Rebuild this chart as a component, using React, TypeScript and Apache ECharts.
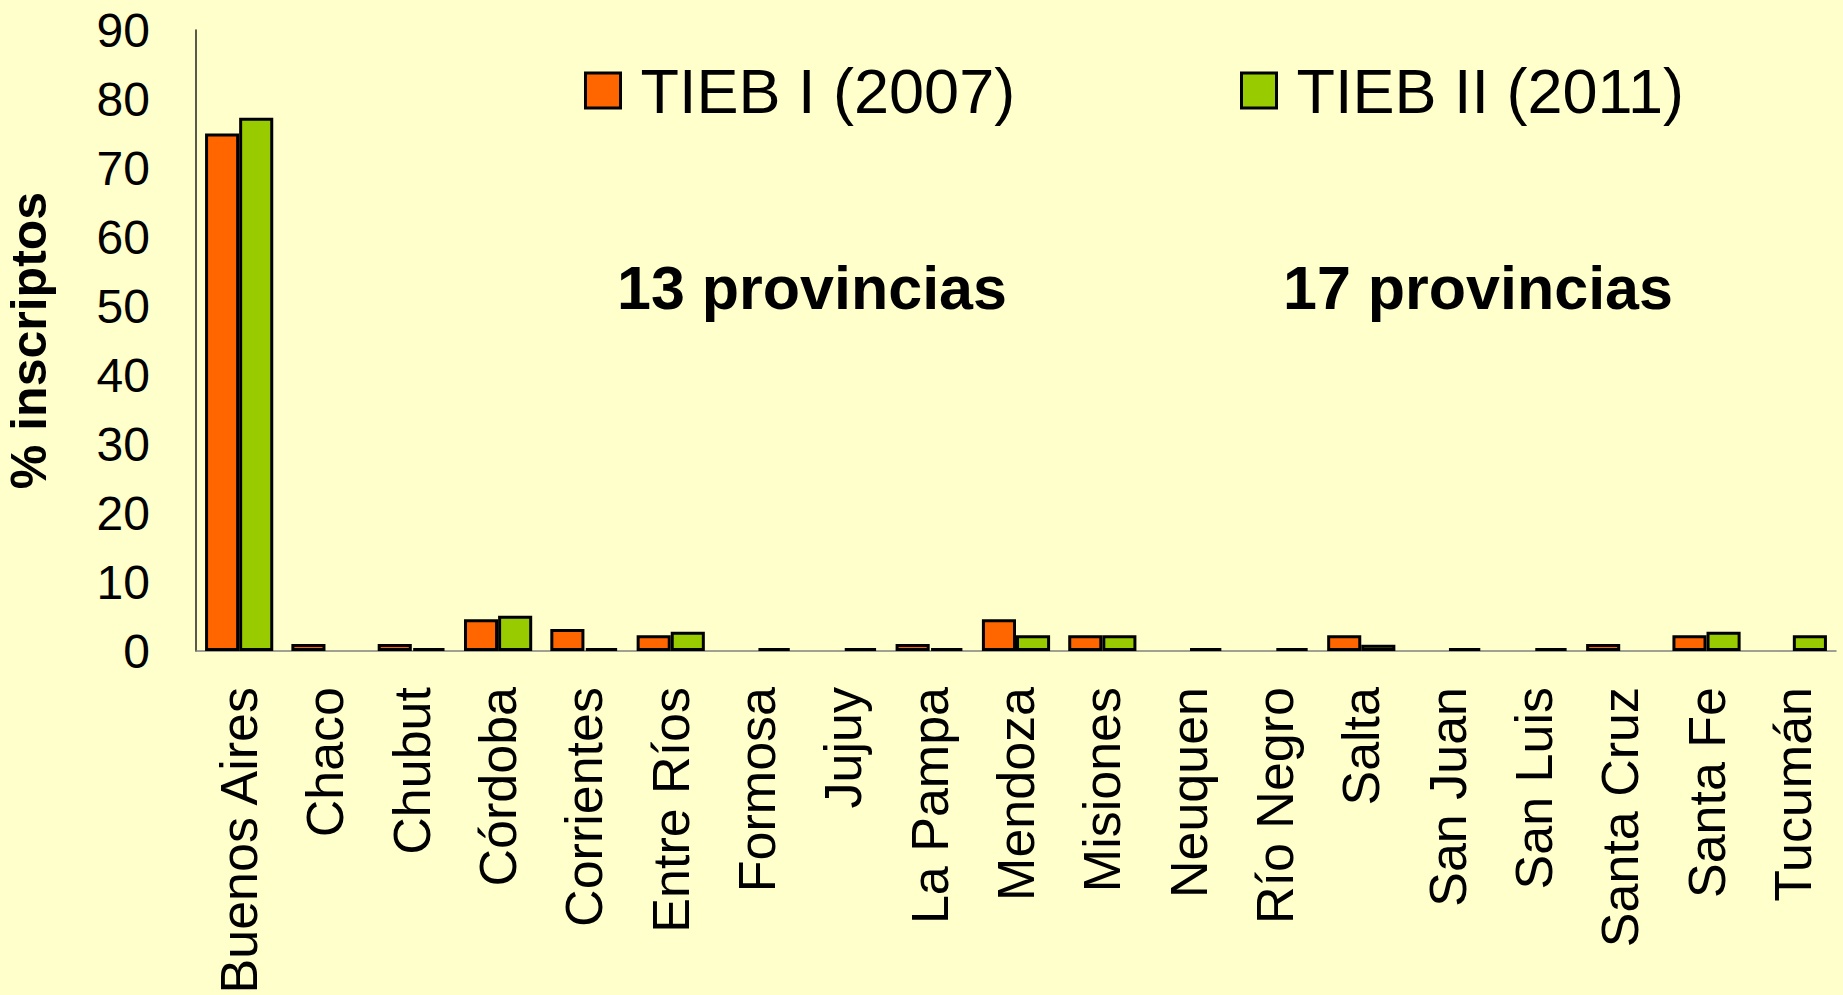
import React, { useEffect, useRef } from "react";
import * as echarts from "echarts";

const categories = [
  "Buenos Aires", "Chaco", "Chubut", "Córdoba", "Corrientes", "Entre Ríos",
  "Formosa", "Jujuy", "La Pampa", "Mendoza", "Misiones", "Neuquen",
  "Río Negro", "Salta", "San Juan", "San Luis", "Santa Cruz", "Santa Fe", "Tucumán",
];
const tieb2007 = [75.0, 1.0, 1.0, 4.6, 3.2, 2.3, null, null, 1.0, 4.6, 2.3, null, null, 2.3, null, null, 1.0, 2.3, null];
const tieb2011 = [77.3, null, 0.4, 5.1, 0.4, 2.8, 0.4, 0.4, 0.4, 2.3, 2.3, 0.4, 0.4, 0.9, 0.4, 0.4, null, 2.8, 2.3];
const seriesNames = ["TIEB I (2007)", "TIEB II (2011)"];
const annotations = ["13 provincias", "17 provincias"];
const yTicks = { min: 0, max: 90, interval: 10 };

const FONT = "'Liberation Sans', Arial, sans-serif";

export default function App() {
  const ref = useRef<HTMLDivElement>(null);
  useEffect(() => {
    document.body.style.margin = "0";
    document.body.style.background = "#FFFFCC";
    const chart = echarts.init(ref.current!, null, { renderer: "svg" });
    const legendBase = {
      icon: "rect",
      itemWidth: 35,
      itemHeight: 35,
      itemGap: 20,
      padding: 0,
      top: 59,
      textStyle: { fontSize: 63, color: "#000", fontFamily: FONT, padding: [0, 0, 0, 15] },
      itemStyle: { borderColor: "#000", borderWidth: 3 },
    };
    chart.setOption({
      animation: false,
      backgroundColor: "#FFFFCC",
      textStyle: { fontFamily: FONT },
      legend: [
        { ...legendBase, left: 584, data: [seriesNames[0]] },
        { ...legendBase, left: 1240, data: [seriesNames[1]] },
      ],
      grid: {
        left: 196,
        right: 7,
        top: 30,
        bottom: 344,
        containLabel: false,
        outerBoundsMode: "none",
      },
      xAxis: {
        type: "category",
        data: categories,
        axisTick: { show: false },
        axisLine: { lineStyle: { color: "#808080", width: 1.5 } },
        axisLabel: {
          rotate: 90,
          margin: 36,
          fontSize: 52,
          color: "#000",
          fontFamily: FONT,
          interval: 0,
        },
      },
      yAxis: {
        type: "value",
        min: yTicks.min,
        max: yTicks.max,
        interval: yTicks.interval,
        splitLine: { show: false },
        axisTick: { show: false },
        axisLine: { show: true, lineStyle: { color: "#222", width: 1.5 } },
        axisLabel: { fontSize: 48, color: "#000", margin: 46, fontFamily: FONT },
        name: "% inscriptos",
        nameLocation: "middle",
        nameRotate: 90,
        nameGap: 142,
        nameTextStyle: { fontSize: 50, fontWeight: "bold", color: "#000", fontFamily: FONT },
      },
      series: [
        {
          name: seriesNames[0],
          type: "bar",
          data: tieb2007,
          barGap: "0%",
          barCategoryGap: "21%",
          itemStyle: { color: "#FF6600", borderColor: "#000", borderWidth: 3 },
        },
        {
          name: seriesNames[1],
          type: "bar",
          data: tieb2011,
          barGap: "0%",
          barCategoryGap: "21%",
          itemStyle: { color: "#99CC00", borderColor: "#000", borderWidth: 3 },
        },
      ],
      graphic: [
        {
          type: "text",
          x: 812,
          y: 288,
          style: {
            text: annotations[0],
            fontSize: 61,
            fontWeight: "bold",
            fontFamily: FONT,
            fill: "#000",
            textAlign: "center",
            textVerticalAlign: "middle",
          },
        },
        {
          type: "text",
          x: 1478,
          y: 288,
          style: {
            text: annotations[1],
            fontSize: 61,
            fontWeight: "bold",
            fontFamily: FONT,
            fill: "#000",
            textAlign: "center",
            textVerticalAlign: "middle",
          },
        },
      ],
    });
    return () => chart.dispose();
  }, []);
  return <div ref={ref} style={{ width: 1843, height: 995, background: "#FFFFCC" }} />;
}
